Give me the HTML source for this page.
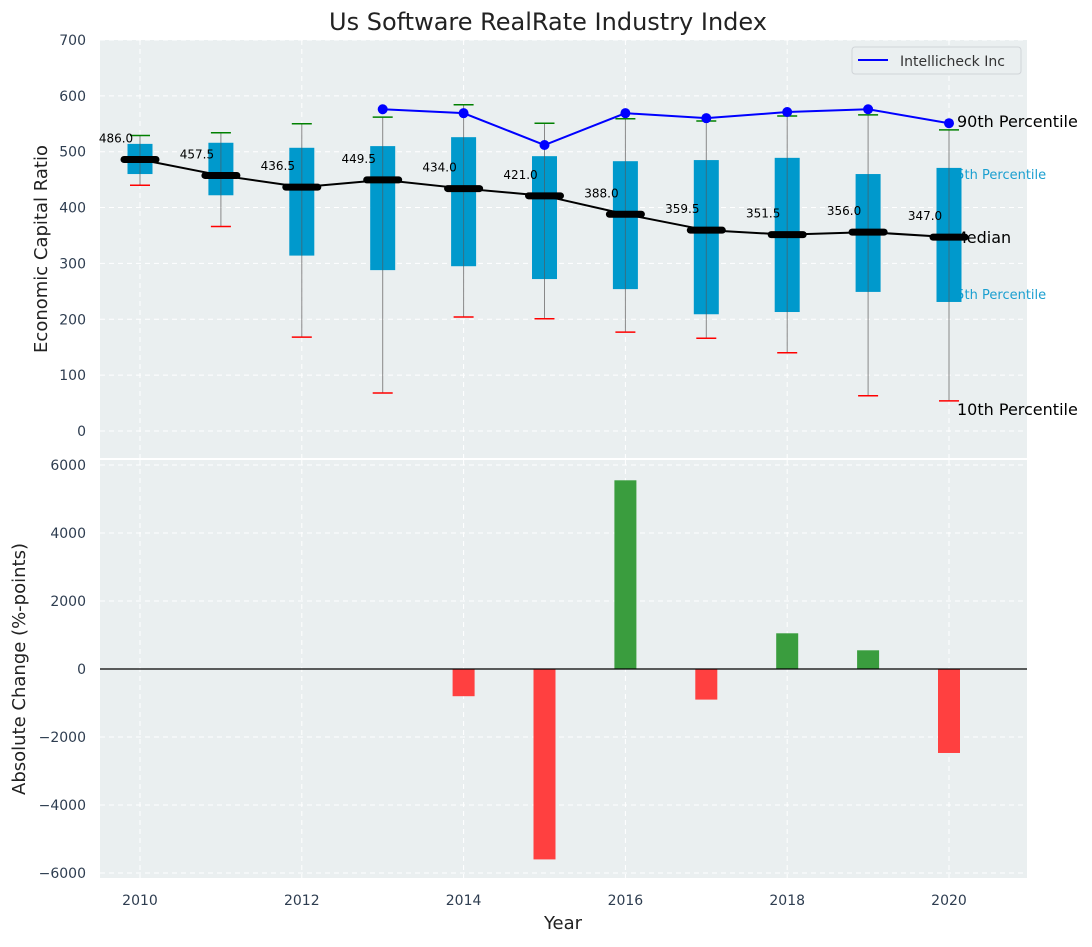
<!DOCTYPE html>
<html><head><meta charset="utf-8">
<style>
body{margin:0;background:#fff;font-family:"Liberation Sans","DejaVu Sans",sans-serif;}
svg text{font-family:"DejaVu Sans","Liberation Sans",sans-serif;}
</style></head>
<body>
<svg id="chart" width="1092" height="942" xmlns="http://www.w3.org/2000/svg"></svg>
<script>
const years=[2010,2011,2012,2013,2014,2015,2016,2017,2018,2019,2020];
const p90=[529,534,550,562,584,551,559,555,564,566,539];
const q75=[514,516,507,510,526,492,483,485,489,460,471];
const medians=[486,457.5,436.5,449.5,434,421,388,359.5,351.5,356,347];
const q25=[460,422,314,288,295,272,254,209,213,249,231];
const p10=[440,366,168,68,204,201,177,166,140,63,54];
const companyYears=[2013,2014,2015,2016,2017,2018,2019,2020];
const companyValues=[576,569,512,569,560,571,576,551];
const changeYears=[2014,2015,2016,2017,2018,2019,2020];
const changeValues=[-800,-5600,5550,-900,1050,550,-2470];
const topTicks=[0,100,200,300,400,500,600,700];
const bottomTicks=[-6000,-4000,-2000,0,2000,4000,6000];
const xTicks=[2010,2012,2014,2016,2018,2020];

const svg=document.getElementById('chart');
const NS='http://www.w3.org/2000/svg';
function mk(tag,attrs,parent){const e=document.createElementNS(NS,tag);for(const k in attrs)e.setAttribute(k,attrs[k]);(parent||svg).appendChild(e);return e;}
const L=100,R=1027;
const xs=y=>140+(y-2010)*80.9;
const yTop=v=>431-v*0.5586;
const yBot=v=>669-v*0.034;

// backgrounds
let bg1=mk('rect',{x:L,y:40,width:R-L,height:418,fill:'#eaeff0'});


let bg2=mk('rect',{x:L,y:460,width:R-L,height:418,fill:'#eaeff0'});



// grids
topTicks.forEach(t=>{mk('line',{x1:L,x2:R,y1:yTop(t),y2:yTop(t),stroke:'#fff','stroke-dasharray':'5,4','stroke-width':1});
 let tx=mk('text',{x:86,y:yTop(t)+5,'text-anchor':'end','font-size':14,fill:'#2e3d50'});tx.textContent=t;
 });
bottomTicks.forEach(t=>{mk('line',{x1:L,x2:R,y1:yBot(t),y2:yBot(t),stroke:'#fff','stroke-dasharray':'5,4','stroke-width':1});
 let tx=mk('text',{x:86,y:yBot(t)+5,'text-anchor':'end','font-size':14,fill:'#2e3d50'});tx.textContent=(t<0?'\u2212'+(-t):t);
 });
xTicks.forEach(t=>{mk('line',{x1:xs(t),x2:xs(t),y1:40,y2:458,stroke:'#fff','stroke-dasharray':'5,4'});
 mk('line',{x1:xs(t),x2:xs(t),y1:460,y2:878,stroke:'#fff','stroke-dasharray':'5,4'});
 let tx=mk('text',{x:xs(t),y:905,'text-anchor':'middle','font-size':14,fill:'#2e3d50'});tx.textContent=t;
 });

// right annotations (drawn under boxes)
const ann=[['90th Percentile',957,127,16,'#000'],['75th Percentile',948,179,13,'#1a9fd0'],['Median',953,243,16,'#000'],['25th Percentile',948,299,13,'#1a9fd0'],['10th Percentile',957,415,16,'#000']];
ann.forEach(a=>{let t=mk('text',{x:a[1],y:a[2],'font-size':a[3],fill:a[4]});t.textContent=a[0];
 });

// boxes
years.forEach((y,i)=>{const x=xs(y);
 let w=mk('line',{x1:x,x2:x,y1:yTop(p90[i]),y2:yTop(p10[i]),stroke:'#888','stroke-width':1});
 
 let b=mk('rect',{x:x-12.5,y:yTop(q75[i]),width:25,height:yTop(q25[i])-yTop(q75[i]),fill:'#0099cc'});
 
 mk('line',{x1:x,x2:x,y1:yTop(q75[i]),y2:yTop(q25[i]),stroke:'#555','stroke-width':1,opacity:0.6});
 let g=mk('line',{x1:x-10,x2:x+10,y1:yTop(p90[i]),y2:yTop(p90[i]),stroke:'green','stroke-width':1.5});
 
 let r=mk('line',{x1:x-10,x2:x+10,y1:yTop(p10[i]),y2:yTop(p10[i]),stroke:'red','stroke-width':1.5});
 
});
// median line
let mp=mk('polyline',{points:years.map((y,i)=>xs(y)+','+yTop(medians[i])).join(' '),fill:'none',stroke:'#000','stroke-width':2});

years.forEach((y,i)=>{const x=xs(y);
 let m=mk('line',{x1:x-16,x2:x+16,y1:yTop(medians[i]),y2:yTop(medians[i]),stroke:'#000','stroke-width':7,'stroke-linecap':'round'});
 
 let t=mk('text',{x:x-24,y:yTop(medians[i])-17,'text-anchor':'middle','font-size':12,fill:'#000'});t.textContent=medians[i].toFixed(1);
 
});
// company line
let cl=mk('polyline',{points:companyYears.map((y,i)=>xs(y)+','+yTop(companyValues[i])).join(' '),fill:'none',stroke:'#0000ff','stroke-width':2});

companyYears.forEach((y,i)=>{let c=mk('circle',{cx:xs(y),cy:yTop(companyValues[i]),r:5,fill:'#0000ff'});
 });

// legend
let lg=mk('g',{});
mk('rect',{x:852,y:47,width:169,height:27,rx:3,fill:'#eaeff0',stroke:'#d0d4d8'},lg);
mk('line',{x1:858,x2:888,y1:60,y2:60,stroke:'#0000ff','stroke-width':2},lg);
let lt=mk('text',{x:900,y:66,'font-size':14,fill:'#333'},lg);lt.textContent='Intellicheck Inc';


// bars
changeYears.forEach((y,i)=>{const v=changeValues[i];const y0=yBot(0),y1=yBot(v);
 let b=mk('rect',{x:xs(y)-11,y:Math.min(y0,y1),width:22,height:Math.abs(y1-y0),fill:v>=0?'#3a9d3e':'#ff4040'});
 });
mk('line',{x1:L,x2:R,y1:yBot(0),y2:yBot(0),stroke:'#000','stroke-width':1.2});

// titles
let ti=mk('text',{x:548,y:30,'text-anchor':'middle','font-size':24,fill:'#222'});ti.textContent='Us Software RealRate Industry Index';

let yl1=mk('text',{x:0,y:0,'text-anchor':'middle','font-size':18,fill:'#222',transform:'translate(47,249) rotate(-90)'});yl1.textContent='Economic Capital Ratio';

let yl2=mk('text',{x:0,y:0,'text-anchor':'middle','font-size':18,fill:'#222',transform:'translate(25,669) rotate(-90)'});yl2.textContent='Absolute Change (%-points)';

let xl=mk('text',{x:563,y:929,'text-anchor':'middle','font-size':18,fill:'#222'});xl.textContent='Year';

</script>
</body></html>
